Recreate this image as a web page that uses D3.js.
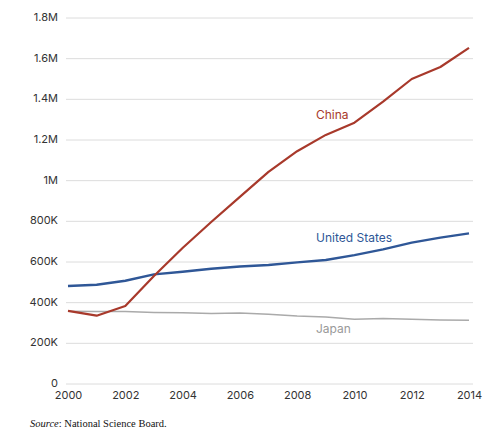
<!DOCTYPE html>
<html><head><meta charset="utf-8">
<script src="https://cdn.jsdelivr.net/npm/d3@7"></script>
<style>
body{margin:0;background:#fff;}
svg{display:block;}
.tick text{font-family:Inter, "Open Sans", sans-serif;font-size:11px;fill:#333;}
</style>
</head><body>
<svg id="chart" width="492" height="439"></svg>
<script>
const years = [2000,2001,2002,2003,2004,2005,2006,2007,2008,2009,2010,2011,2012,2013,2014];
const china = [360000,336000,384000,531000,669000,797000,920000,1043000,1145000,1225000,1285000,1389000,1500000,1559000,1653000];
const unitedStates = [482000,488000,508000,539000,552000,567000,578000,585000,598000,610000,634000,662000,695000,720000,741000];
const japan = [358000,357000,356000,352000,350000,347000,349000,343000,334000,330000,318000,322000,318000,315000,313000];
const yTicks = [0,200000,400000,600000,800000,1000000,1200000,1400000,1600000,1800000];
const yTickLabels = ["0","200K","400K","600K","800K","1M","1.2M","1.4M","1.6M","1.8M"];
const xTicks = [2000,2002,2004,2006,2008,2010,2012,2014];
const seriesNames = ["China","United States","Japan"];
const seriesColors = ["#a8392b","#2f5797","#aaaaaa"];

const svg = d3.select("#chart");
const x = d3.scaleLinear().domain([2000,2014]).range([68,469]);
const y = d3.scaleLinear().domain([0,1800000]).range([384,18]);

// gridlines
svg.append("g").selectAll("line").data(yTicks).join("line")
  .attr("x1",66).attr("x2",473)
  .attr("y1",d=>y(d)).attr("y2",d=>y(d))
  .attr("stroke","#dcdcdc").attr("stroke-width",1);

// y axis labels
const yAxis = d3.axisLeft(y).tickValues(yTicks).tickSize(0).tickPadding(0)
  .tickFormat((d,i)=>yTickLabels[i]);
const ga = svg.append("g").attr("transform","translate(58,-1)").call(yAxis);
ga.select(".domain").remove();

// x axis labels
const xAxis = d3.axisBottom(x).tickValues(xTicks).tickSize(0).tickPadding(0).tickFormat(d3.format("d"));
const gx = svg.append("g").attr("transform","translate(0,391)").call(xAxis);
gx.select(".domain").remove();

const line = d3.line().x((d,i)=>x(years[i])).y(d=>y(d));
const data = [china, unitedStates, japan];
const widths = [2.2,2.4,1.5];
[2,1,0].forEach(i=>{
  svg.append("path").datum(data[i]).attr("d",line)
    .attr("fill","none").attr("stroke",seriesColors[i])
    .attr("stroke-width",widths[i]).attr("stroke-linejoin","round");
});

// series labels
const labelPos = [[316,119],[316,242],[316,333]];
seriesNames.forEach((n,i)=>{
  svg.append("text").attr("x",labelPos[i][0]).attr("y",labelPos[i][1])
    .attr("fill", i===2 ? "#999" : seriesColors[i])
    .style("font-family","Inter, 'Open Sans', sans-serif").style("font-size","12px")
    .text(n);
});

// source
const src = svg.append("text").attr("x",30).attr("y",427)
  .style("font-family","'Liberation Serif', 'DejaVu Serif', serif").style("font-size","10.5px").attr("fill","#111");
src.append("tspan").style("font-style","italic").text("Source");
src.append("tspan").text(": National Science Board.");
</script>
</body></html>
